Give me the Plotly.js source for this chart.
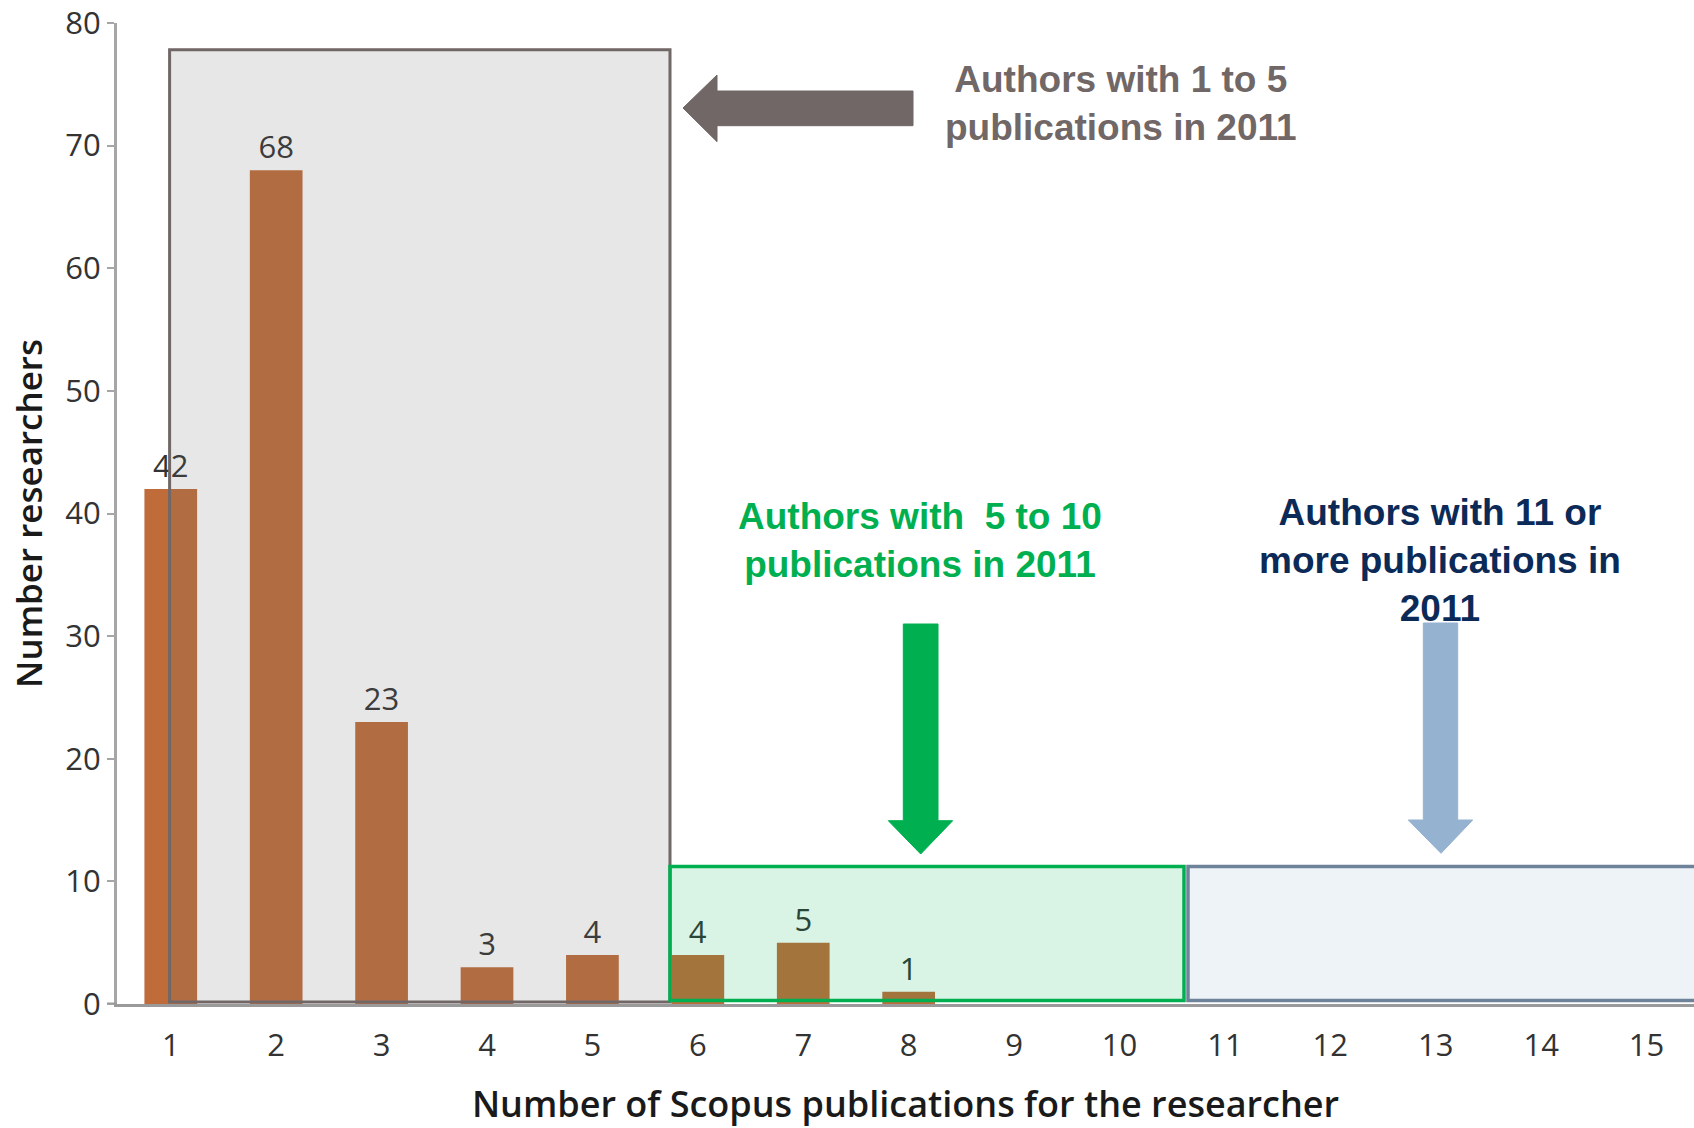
<!DOCTYPE html>
<html>
<head>
<meta charset="utf-8">
<script src="https://cdn.plot.ly/plotly-3.0.1.min.js"></script>
<style>html,body{margin:0;padding:0;background:#fff;}#chart{width:1694px;height:1128px;}</style>
</head>
<body>
<div id="chart"></div>
<script>
// ---- data ----
const publications = [1, 2, 3, 4, 5, 6, 7, 8];
const researchers = [42, 68, 23, 3, 4, 4, 5, 1];
const tickValues = [1, 2, 3, 4, 5, 6, 7, 8, 9, 10, 11, 12, 13, 14, 15];
const tickLabels = ['1', '2', '3', '4', '5', '6', '7', '8', '9', '10', '11', '12', '13', '14', '15'];
const yTickValues = [0, 10, 20, 30, 40, 50, 60, 70, 80];
const xTitle = 'Number of Scopus publications for the researcher';
const yTitle = 'Number researchers';
const noteGrey = 'Authors with 1 to 5<br>publications in 2011';
const noteGreen = 'Authors with  5 to 10<br>publications in 2011';
const noteBlue = 'Authors with 11 or<br>more publications in<br>2011';

// ---- layout geometry ----
const W = 1694, H = 1128;
const mL = 117, mR = 0, mT = 23, mB = 124;
const xRange = [0.49, 15.45], yRange = [0, 80];
const plotW = W - mL - mR, plotH = H - mT - mB;
// pixel -> data helpers for decorations
const X = px => xRange[0] + (px - mL) / plotW * (xRange[1] - xRange[0]);
const Y = py => yRange[0] + (H - mB - py) / plotH * (yRange[1] - yRange[0]);
const path = pts => 'M' + pts.map(p => X(p[0]) + ',' + Y(p[1])).join(' L') + ' Z';

const trace = {
  type: 'bar',
  x: publications,
  y: researchers,
  width: 0.5,
  marker: {color: '#C06C3A', line: {width: 0}},
  text: researchers.map(String),
  textposition: 'outside',
  cliponaxis: false,
  textfont: {family: 'Open Sans, sans-serif', size: 31, color: '#333333'},
  hoverinfo: 'x+y'
};

const shapes = [
  // grey box (translucent, above bars)
  {type: 'rect', xref: 'x', yref: 'y', layer: 'above',
   x0: X(169.6), x1: X(670), y0: Y(1002), y1: Y(49.7),
   fillcolor: 'rgba(110,110,110,0.165)', line: {color: '#706766', width: 3}},
  // green box
  {type: 'rect', xref: 'x', yref: 'y', layer: 'above',
   x0: X(670), x1: X(1184), y0: Y(1000.5), y1: Y(866.5),
   fillcolor: 'rgba(0,176,80,0.15)', line: {color: '#00B050', width: 3.5}},
  // blue box
  {type: 'rect', xref: 'x', yref: 'y', layer: 'above',
   x0: X(1188), x1: X(1730), y0: Y(1000.5), y1: Y(866.5),
   fillcolor: 'rgba(90,140,190,0.1)', line: {color: '#6E8299', width: 3.5}},
  // x-axis line stub extending left of the y axis
  {type: 'line', xref: 'paper', yref: 'y', layer: 'above',
   x0: -10 / plotW, x1: 0, y0: 0, y1: 0, line: {color: '#9a9a9a', width: 3}},
  // grey arrow (pointing left)
  {type: 'path', xref: 'x', yref: 'y', layer: 'above',
   path: path([[683,108],[717,75],[717,91],[913,91],[913,125.7],[717,125.7],[717,141.7]]),
   fillcolor: '#706766', line: {color: '#706766', width: 1}},
  // green arrow (pointing down)
  {type: 'path', xref: 'x', yref: 'y', layer: 'above',
   path: path([[903.3,624],[938,624],[938,820.7],[952.7,820.7],[920.7,854],[888.3,820.7],[903.3,820.7]]),
   fillcolor: '#00B050', line: {color: '#00B050', width: 1}},
  // blue arrow (pointing down)
  {type: 'path', xref: 'x', yref: 'y', layer: 'above',
   path: path([[1423.3,623],[1457.7,623],[1457.7,820],[1472.7,820],[1441,853.3],[1408.3,820],[1423.3,820]]),
   fillcolor: '#95B3D1', line: {color: '#95B3D1', width: 1}}
];

const noteFont = (c) => ({family: 'Liberation Sans, Arial, sans-serif', size: 37, color: c, weight: 'bold'});
const annotations = [
  {xref: 'x', yref: 'y', x: X(1121), y: Y(103.5), text: '<b>' + noteGrey + '</b>', showarrow: false,
   xanchor: 'center', yanchor: 'middle', align: 'center', font: noteFont('#706766')},
  {xref: 'x', yref: 'y', x: X(920), y: Y(540), text: '<b>' + noteGreen + '</b>', showarrow: false,
   xanchor: 'center', yanchor: 'middle', align: 'center', font: noteFont('#00B050')},
  {xref: 'x', yref: 'y', x: X(1440), y: Y(560.5), text: '<b>' + noteBlue + '</b>', showarrow: false,
   xanchor: 'center', yanchor: 'middle', align: 'center', font: noteFont('#0C2A57')}
];

const layout = {
  width: W, height: H,
  margin: {l: mL, r: mR, t: mT, b: mB, pad: 0},
  paper_bgcolor: '#ffffff', plot_bgcolor: '#ffffff',
  showlegend: false,
  bargap: 0.5,
  xaxis: {
    range: xRange, tickvals: tickValues, ticktext: tickLabels,
    showgrid: false, zeroline: false, showline: true, linecolor: '#9a9a9a', linewidth: 3,
    ticks: 'outside', ticklen: 12, tickcolor: 'rgba(0,0,0,0)',
    tickfont: {family: 'Open Sans, sans-serif', size: 31, color: '#333333'},
    title: {text: xTitle, font: {family: 'Open Sans, sans-serif', size: 36, color: '#1a1a1a', weight: 600}, standoff: 28},
    fixedrange: true
  },
  yaxis: {
    range: yRange, tickvals: yTickValues,
    showgrid: false, zeroline: false, showline: true, linecolor: '#a6a6a6', linewidth: 3,
    ticks: 'outside', ticklen: 7, tickcolor: '#a6a6a6', tickwidth: 2,
    tickfont: {family: 'Open Sans, sans-serif', size: 31, color: '#333333'},
    title: {text: yTitle, font: {family: 'Open Sans, sans-serif', size: 35, color: '#1a1a1a', weight: 600}, standoff: 13},
    fixedrange: true
  },
  shapes: shapes,
  annotations: annotations
};

Plotly.newPlot('chart', [trace], layout, {displayModeBar: false, staticPlot: true});
</script>
</body>
</html>
